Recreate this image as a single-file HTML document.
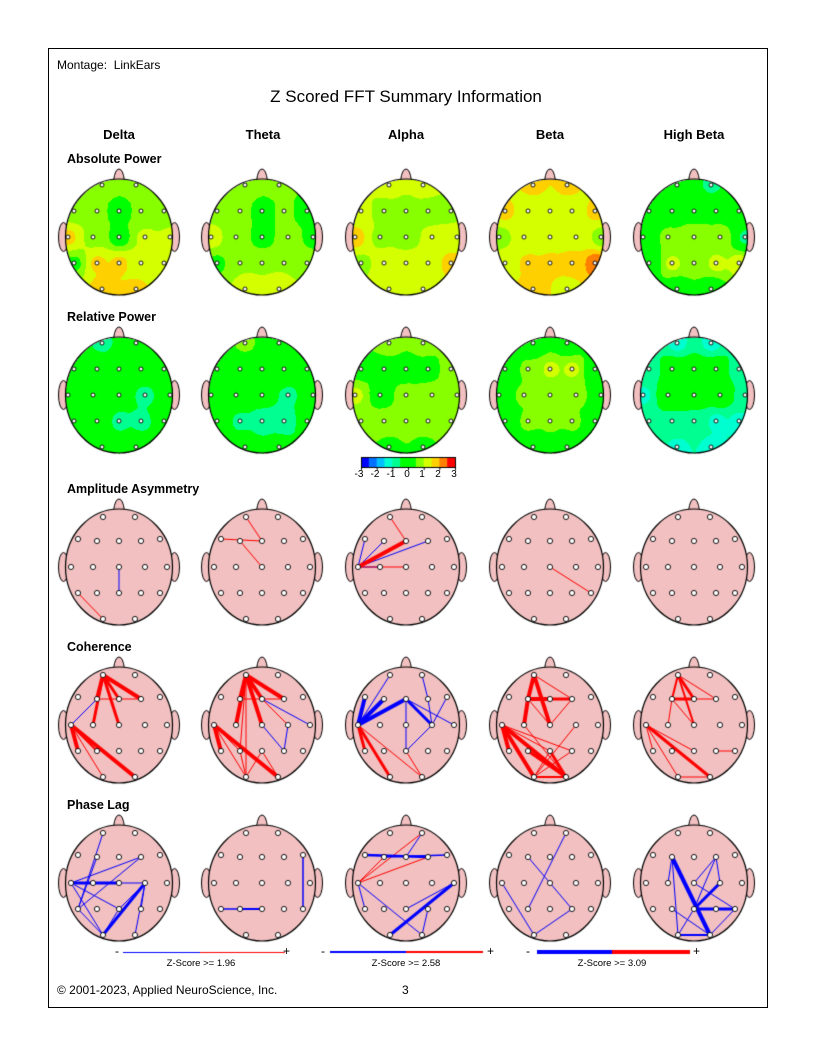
<!DOCTYPE html>
<html><head><meta charset="utf-8">
<style>
body{margin:0;background:#fff;}
#w{position:relative;width:816px;height:1056px;font-family:"Liberation Sans",Arial,sans-serif;color:#000;}
.t{position:absolute;white-space:nowrap;}
.b{font-weight:bold;font-size:13px;}
.c{transform:translateX(-50%);}
canvas{position:absolute;left:0;top:0;}
</style></head><body>
<div id="w">
<canvas id="cv" width="816" height="1056"></canvas>
<div style="position:absolute;left:48px;top:48px;width:718px;height:958px;border:1px solid #000;"></div>
<div class="t" style="left:57px;top:58px;font-size:12px;">Montage:&nbsp; LinkEars</div>
<div class="t c" style="left:406px;top:87px;font-size:17px;">Z Scored FFT Summary Information</div>
<div class="t c b" style="left:119px;top:127px;">Delta</div>
<div class="t c b" style="left:263px;top:127px;">Theta</div>
<div class="t c b" style="left:406px;top:127px;">Alpha</div>
<div class="t c b" style="left:550px;top:127px;">Beta</div>
<div class="t c b" style="left:694px;top:127px;">High Beta</div>
<div class="t b" style="left:67px;top:152px;font-size:12.5px;">Absolute Power</div>
<div class="t b" style="left:67px;top:310px;font-size:12.5px;">Relative Power</div>
<div class="t b" style="left:67px;top:482px;font-size:12.5px;">Amplitude Asymmetry</div>
<div class="t b" style="left:67px;top:640px;font-size:12.5px;">Coherence</div>
<div class="t b" style="left:67px;top:798px;font-size:12.5px;">Phase Lag</div>
<div class="t c" style="left:359px;top:469px;font-size:10px;">-3</div>
<div class="t c" style="left:375px;top:469px;font-size:10px;">-2</div>
<div class="t c" style="left:391px;top:469px;font-size:10px;">-1</div>
<div class="t c" style="left:407px;top:469px;font-size:10px;">0</div>
<div class="t c" style="left:422px;top:469px;font-size:10px;">1</div>
<div class="t c" style="left:438px;top:469px;font-size:10px;">2</div>
<div class="t c" style="left:454px;top:469px;font-size:10px;">3</div>
<div class="t" style="left:115px;top:944px;font-size:12px;">-</div>
<div class="t" style="left:283px;top:944px;font-size:12px;">+</div>
<div class="t" style="left:321px;top:944px;font-size:12px;">-</div>
<div class="t" style="left:487px;top:944px;font-size:12px;">+</div>
<div class="t" style="left:526px;top:944px;font-size:12px;">-</div>
<div class="t" style="left:693px;top:944px;font-size:12px;">+</div>
<div class="t c" style="left:201px;top:958px;font-size:9.5px;">Z-Score &gt;= 1.96</div>
<div class="t c" style="left:406px;top:958px;font-size:9.5px;">Z-Score &gt;= 2.58</div>
<div class="t c" style="left:612px;top:958px;font-size:9.5px;">Z-Score &gt;= 3.09</div>
<div class="t" style="left:57px;top:983px;font-size:12px;">© 2001-2023, Applied NeuroScience, Inc.</div>
<div class="t" style="left:402px;top:983px;font-size:12px;">3</div>
</div>
<script>
var cv=document.getElementById('cv'),g=cv.getContext('2d');
var COLS=[119,262,406,550,694];
var N=['Fp1','Fp2','F7','F3','Fz','F4','F8','T3','C3','Cz','C4','T4','T5','P3','Pz','P4','T6','O1','O2'];
var PH=[[-17,-52],[17,-52],[-45,-26],[-22,-26],[0,-26],[22,-26],[45,-26],[-51,0],[-26,0],[0,0],[26,0],[51,0],[-45,26],[-22,26],[0,26],[22,26],[45,26],[-17,52],[17,52]];
var PL=[[-16,-50],[16,-50],[-41,-28],[-22,-26],[0,-26],[22,-26],[41,-28],[-48,0],[-26,0],[0,0],[26,0],[48,0],[-41,26],[-22,26],[0,26],[22,26],[41,26],[-16,52],[16,52]];
var CB=['#0000ff','#0070ff','#00c0ff','#00ffd0','#00ff90','#00ff00','#00ff00','#88ff00','#d4ff00','#ffd000','#ff8000','#ff0000'];
function col(z){var i=Math.floor((z+3)/0.5);if(i<0)i=0;if(i>11)i=11;return CB[i];}
function hex(c){return [parseInt(c.substr(1,2),16),parseInt(c.substr(3,2),16),parseInt(c.substr(5,2),16)];}
function base(cx,cy){
 g.lineWidth=1;g.strokeStyle='#000';g.fillStyle='#f2c0c0';
 [-1,1].forEach(function(s){g.beginPath();g.ellipse(cx+s*55.5,cy,5,14.5,0,0,Math.PI*2);g.fill();g.stroke();});
 g.beginPath();g.moveTo(cx-5.5,cy-56);g.quadraticCurveTo(cx-4,cy-68,cx,cy-68);g.quadraticCurveTo(cx+4,cy-68,cx+5.5,cy-56);g.closePath();g.fill();g.stroke();
}
function outline(cx,cy,fill){g.beginPath();g.ellipse(cx,cy,53.5,58,0,0,Math.PI*2);if(fill){g.fillStyle=fill;g.fill();}g.strokeStyle='#000';g.lineWidth=1.2;g.stroke();}
function dots(cx,cy,P,r){g.lineWidth=0.9;g.strokeStyle='#000';g.fillStyle='#fff';P.forEach(function(p){g.beginPath();g.arc(cx+p[0],cy+p[1],r,0,Math.PI*2);g.fill();g.stroke();});}
function heat(cx,cy,v){
 base(cx,cy);
 var img=g.getImageData(cx-55,cy-60,110,120),d=img.data;
 for(var y=0;y<120;y++)for(var x=0;x<110;x++){
  var dx=x-55,dy=y-60; if((dx*dx)/(53.5*53.5)+(dy*dy)/(58*58)>1)continue;
  var sw=0,s=0;
  for(var k=0;k<19;k++){var ex=dx-PH[k][0],ey=dy-PH[k][1],q=ex*ex+ey*ey+4,w=1/Math.pow(q,1.5);sw+=w;s+=w*v[k];}
  var c=hex(col(s/sw)),o=(y*110+x)*4;d[o]=c[0];d[o+1]=c[1];d[o+2]=c[2];d[o+3]=255;
 }
 g.putImageData(img,cx-55,cy-60);
 outline(cx,cy,null);dots(cx,cy,PH,2);
}
function idx(n){return N.indexOf(n);}
function lines(cx,cy,L){
 base(cx,cy);outline(cx,cy,'#f2c0c0');
 L.forEach(function(l){var a=PL[idx(l[0])],b=PL[idx(l[1])];g.beginPath();g.moveTo(cx+a[0],cy+a[1]);g.lineTo(cx+b[0],cy+b[1]);g.strokeStyle=l[2]=='r'?'#ff0000':'#0000ff';g.lineWidth=l[3];g.stroke();});
 dots(cx,cy,PL,2.6);
}
var ABS=[
[.7,.7,.8,.6,.2,.6,.6,1.6,.9,.2,1.1,1.1,.4,1.6,1.6,1.3,1.2,1.7,1.6],
[.8,.7,.9,.7,.2,.6,.2,1.2,.8,.2,.8,.3,.4,1.0,1.0,1.0,.9,1.2,1.2],
[1.2,1.2,1.1,.8,.8,.8,.9,1.7,.9,.8,1.1,1.2,.9,1.2,1.2,1.2,1.7,1.2,1.2],
[1.6,1.6,1.6,1.2,1.2,1.2,1.6,.8,1.1,1.2,1.2,.8,1.2,1.6,1.6,1.7,2.3,1.7,1.3],
[-.3,-.6,0,.3,.3,.3,0,0,.6,.9,.9,-.6,0,1.1,.8,1.1,1.2,0,0]];
var REL=[
[-.6,0,0,0,0,-.3,0,-.5,0,-.4,-.6,0,0,0,-.6,-.6,-.3,0,0],
[.6,0,.5,0,0,0,-.5,0,0,-.3,-.6,0,0,-.6,-.8,-1.0,0,0,0],
[.7,.7,.3,.3,.2,.3,.7,1.1,.2,.7,.7,.7,.7,.7,.7,.7,.7,.4,.4],
[0,0,0,.6,1.1,1.1,0,0,.6,.7,.7,0,0,.6,.6,.6,0,0,0],
[-1.1,-1.1,-.8,0,0,0,-.8,-1.1,0,0,0,-.7,-.7,-.6,-.7,-1.1,-1.1,-1.1,-1.1]];
for(var i=0;i<5;i++){heat(COLS[i],237,ABS[i]);heat(COLS[i],395,REL[i]);}
var ASY=[
[['Cz','Pz','b',1],['T5','O1','r',1]],
[['Fp1','Fz','r',1],['F7','Fz','r',1],['F3','Cz','r',1]],
[['T3','F7','b',1],['T3','F3','b',1],['T3','F4','b',1],['T3','C3','b',1],['T3','Cz','r',1],['Fp1','Fz','r',1],['T3','Fz','r',4]],
[['Cz','T6','r',1]],[]];
var COH=[
[['Fp1','F3','r',4],['Fp1','C3','r',3],['Fp1','Cz','r',3],['Fp1','Fz','r',3],['Fp1','F4','r',4],['F3','F4','r',1],['F3','T3','b',1],['T3','T5','r',4],['T3','P3','r',2],['T3','O1','r',1],['T3','O2','r',4]],
[['Fp1','F3','r',4],['Fp1','C3','r',4],['Fp1','Fz','r',4],['Fp1','Cz','r',4],['Fp1','F4','r',4],['Fp1','P3','r',1],['Fp1','O1','r',1],['F3','F4','r',1],['Fz','T4','b',1],['Fz','C4','r',1],['Cz','P4','b',1],['C4','P4','b',1],['T3','T5','r',4],['T3','O2','r',4],['T3','O1','r',1],['T3','P3','r',1],['P3','O1','r',1],['O1','Pz','r',1],['Pz','O2','r',1]],
[['F7','T3','b',4],['T3','F3','b',4],['T3','Fz','b',4],['Fz','C4','b',3],['T3','Fp1','b',1],['Fz','Pz','b',1],['Fz','T4','b',1],['F4','C4','b',1],['F8','C4','b',1],['Fp2','F4','b',1],['Pz','C4','b',1],['T3','T5','r',3],['T3','O1','r',3],['T3','O2','r',1],['Pz','O2','r',1]],
[['Fp1','F3','r',4],['Fp1','Cz','r',4],['F3','C3','r',4],['F3','Fz','r',4],['Fz','F4','r',3],['Fp1','F4','r',1],['F3','Cz','r',1],['Cz','F4','r',1],['T3','T5','r',4],['T3','O1','r',4],['T3','O2','r',4],['T3','Pz','r',1],['T3','P4','r',1],['O1','O2','r',2],['O1','Pz','r',1],['O1','P4','r',1],['O1','C4','r',1],['O2','Pz','r',3],['P3','O2','r',3],['C3','O2','r',1]],
[['Fp1','F3','r',2],['Fp1','Fz','r',3],['Fp1','Cz','r',2],['Fp1','F4','r',1],['F3','Fz','r',3],['F3','C3','r',1],['F3','Cz','r',1],['Fz','F4','r',1],['T3','T5','r',1],['T3','O1','r',1],['T3','O2','r',3],['T3','Pz','r',1],['O1','O2','r',1],['P4','T6','r',1]]];
var PHL=[
[['Fp1','T5','b',1],['T3','Cz','b',3],['T3','C4','b',1],['T3','F4','b',1],['F3','T5','b',1],['F4','T5','b',1],['T3','Pz','b',1],['T3','O1','b',1],['T5','O1','b',1],['O1','C4','b',3],['C4','Pz','b',1],['C4','P4','b',1],['C4','O2','b',1],['Pz','O1','b',1]],
[['T5','P3','b',1.5],['P3','Pz','b',2],['F8','T6','b',1.5]],
[['T3','F3','r',1],['T3','F4','r',1],['T3','Fp2','r',1],['F7','F4','b',2.5],['F3','F8','b',1.5],['Fp2','Fz','b',1],['T3','T5','b',1],['T3','O2','b',1],['O2','P4','b',1],['T4','O1','b',3],['T4','Pz','b',1]],
[['Fp2','P3','b',1],['F3','P4','b',1],['T3','O1','b',1],['P4','O1','b',1]],
[['F3','O2','b',4],['F3','C3','b',1],['F3','O1','b',1],['Cz','F4','b',1],['F4','C4','b',1],['F4','Pz','b',1],['C4','Pz','b',3],['Pz','T6','b',3],['Pz','O1','b',1],['O1','O2','b',2],['O2','T6','b',1],['Cz','T6','b',1],['P3','O2','b',1]]];
for(var i=0;i<5;i++){lines(COLS[i],567,ASY[i]);lines(COLS[i],725,COH[i]);lines(COLS[i],883,PHL[i]);}
for(var k=0;k<12;k++){g.fillStyle=CB[k];g.fillRect(361+k*94/12,457,94/12+0.5,10);}
g.strokeStyle='#000';g.lineWidth=1;g.strokeRect(361.5,457.5,94,10);
for(var k=0;k<7;k++){g.beginPath();g.moveTo(361.5+k*94/6,467);g.lineTo(361.5+k*94/6,470);g.stroke();}
function leg(x1,x2,x3,w,y){g.lineWidth=w;g.strokeStyle='#0000ff';g.beginPath();g.moveTo(x1,y);g.lineTo(x2,y);g.stroke();g.strokeStyle='#ff0000';g.beginPath();g.moveTo(x2,y);g.lineTo(x3,y);g.stroke();}
leg(123,200,285,1,952.5);leg(330,406,483,2,952);leg(537,612,690,4,952);
</script>
</body></html>
